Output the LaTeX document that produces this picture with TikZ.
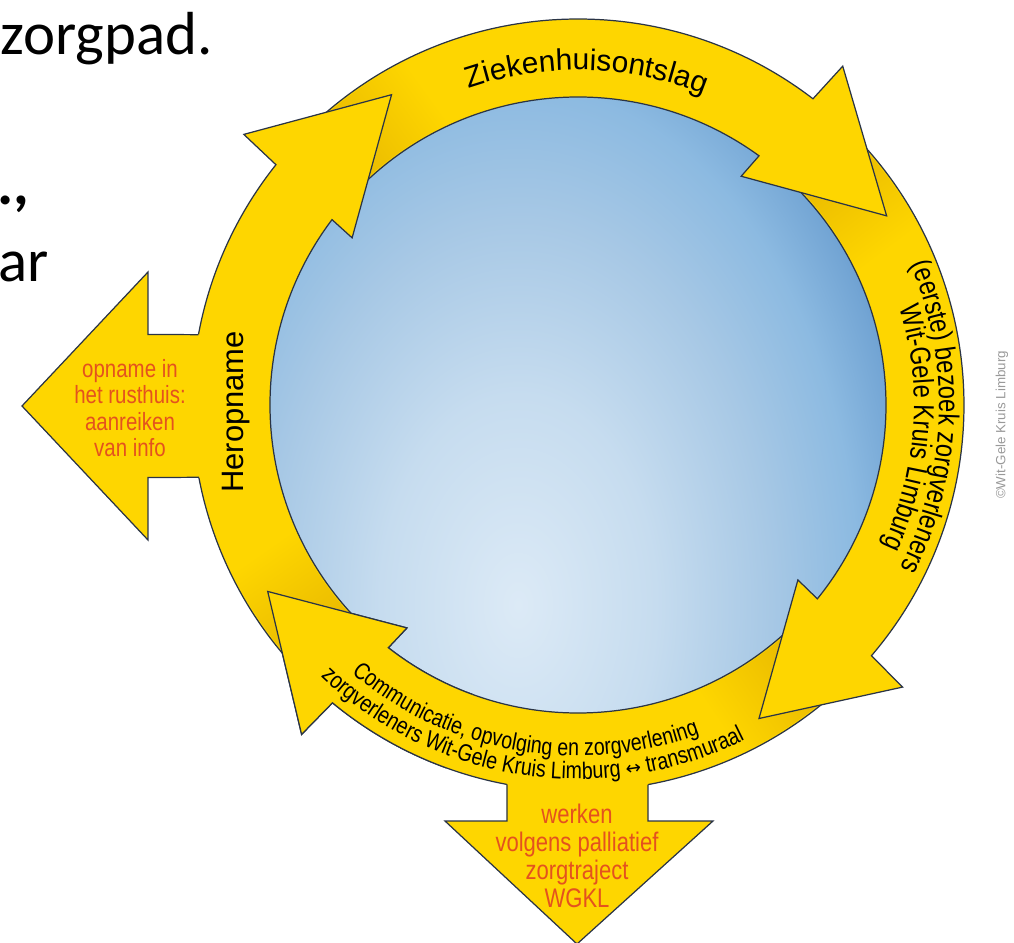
\documentclass[tikz,border=0pt]{standalone}
\usepackage{fontspec}
\setmainfont{Liberation Sans}
\newfontfamily\narrowsans[FakeStretch=0.82]{Liberation Sans}
\newfontfamily\slidefont{Carlito}
\newfontfamily\symbolfont{DejaVu Sans}
\usetikzlibrary{decorations.text}

\definecolor{ringyellow}{RGB}{254,214,0}
\definecolor{ringshade}{RGB}{232,184,0}
\definecolor{ringline}{RGB}{42,52,70}
\definecolor{infotext}{RGB}{228,82,30}
\definecolor{globeA}{RGB}{220,234,246}
\definecolor{globeB}{RGB}{198,220,239}
\definecolor{globeC}{RGB}{167,200,229}
\definecolor{globeD}{RGB}{140,186,225}
\definecolor{globeE}{RGB}{115,165,212}
\definecolor{globeF}{RGB}{80,130,190}

\pgfdeclareradialshading{globe}{\pgfpoint{0bp}{0bp}}{color(0bp)=(globeA); color(7.5bp)=(globeB); color(13.75bp)=(globeC); color(18.5bp)=(globeD); color(21.5bp)=(globeE); color(25bp)=(globeF); color(50bp)=(globeF)}
\pgfdeclarehorizontalshading{tailfade}{100bp}{color(0bp)=(ringshade); color(30bp)=(ringshade); color(62bp)=(ringyellow); color(100bp)=(ringyellow)}

% curved arrow on the ring: tail angle, base of head, tip angle
\newcommand\ringarrow[3]{(#1:308) arc[start angle=#1, end angle=#2+1, radius=308] -- (#2+1.5:281) -- (#3:362) -- (#2-1:430) -- (#2-0.5:386) arc[start angle=#2-0.5, end angle=#1, radius=386] -- cycle}
% darker part of a tail that runs under the previous head
\newcommand\tailshade[1]{%
  \shade[shading=tailfade, shading angle=#1-101]
    (#1:309.5) arc[start angle=#1, end angle=#1-30, radius=309.5] -- (#1-30:384.5) arc[start angle=#1-30, end angle=#1, radius=384.5] -- cycle;}

\newcommand\topfont{\fontsize{17pt}{17pt}\selectfont}
\newcommand\sidefont{\narrowsans\fontsize{16.4pt}{16.4pt}\selectfont}
\newcommand\basefont{\narrowsans\fontsize{13.6pt}{13.6pt}\selectfont}
\newcommand\arrowfont{\symbolfont\fontsize{10.5pt}{10.5pt}\selectfont}

\begin{document}
\begin{tikzpicture}[x=0.02cm, y=0.02cm,
    band/.style={fill=ringyellow, draw=ringline, line width=0.7pt, line join=miter},
    outline/.style={draw=ringline, line width=0.7pt, line join=miter},
    info/.style={align=center, text=infotext, inner sep=0pt},
    slide/.style={anchor=base east, inner sep=0pt, font=\slidefont\fontsize{34.6pt}{34.6pt}\selectfont}]
  \useasboundingbox (-578,-538) rectangle (436,405);

  \begin{scope}
    \clip (0,0) circle (310);
    \shade[shading=globe] (-60,-200) ellipse (460 and 700);
  \end{scope}

  \draw[band] \ringarrow{315}{231}{211};
  \tailshade{315}
  \draw[band] \ringarrow{48}{-40}{-60};
  \tailshade{48}
  \draw[band] \ringarrow{137}{53}{31.5};
  \tailshade{137}
  \draw[band] \ringarrow{226}{142}{121};
  \tailshade{226}
  \begin{scope}
    \clip (0,0) -- (200:600) arc[start angle=200, end angle=250, radius=600] -- cycle;
    \draw[band] \ringarrow{315}{231}{211};
  \end{scope}

  % arrows leaving the ring
  \fill[ringyellow] (-365,70.5) -- (-430,70.5) -- (-430,133) -- (-556,-1) -- (-430,-135) -- (-430,-72.5) -- (-365,-72.5) -- cycle;
  \draw[outline] (169.5:386) -- (-430,70.5) -- (-430,133) -- (-556,-1) -- (-430,-135) -- (-430,-72.5) -- (190.8:386);
  \fill[ringyellow] (-71,-365) -- (-71,-416) -- (-133,-416) -- (-1,-539) -- (135,-416) -- (70,-416) -- (70,-365) -- cycle;
  \draw[outline] (259.4:386) -- (-71,-416) -- (-133,-416) -- (-1,-539) -- (135,-416) -- (70,-416) -- (280.45:386);

  % texts on the ring
  \path[decorate, decoration={text along path, text align=center,
      text={|\topfont|Ziekenhuisontslag}}]
    (118.5:335) arc[start angle=118.5, end angle=58.5, radius=335];
  \path[decorate, decoration={text along path, text align=center,
      text={|\sidefont|(eerste) bezoek zorgverleners}}]
    (33:361) arc[start angle=33, end angle=-37, radius=361];
  \path[decorate, decoration={text along path, text align=center,
      text={|\sidefont|Wit-Gele Kruis Limburg}}]
    (31:336) arc[start angle=31, end angle=-39, radius=336];
  \path[decorate, decoration={text along path, text align=center,
      text={|\basefont|Communicatie, opvolging en zorgverlening}}]
    (220:351) arc[start angle=220, end angle=300, radius=351];
  \path[decorate, decoration={text along path, text align=center,
      text={|\basefont|zorgverleners Wit-Gele Kruis Limburg |\arrowfont|↔|\basefont| transmuraal}}]
    (218:374) arc[start angle=218, end angle=305, radius=374];
  \node[rotate=90, anchor=base, inner sep=0pt, font=\fontsize{17.6pt}{17.6pt}\selectfont] (heropname) at (-334,-7) {Heropname};

  \node[info, font=\narrowsans\fontsize{14.2pt}{15pt}\selectfont] (rusthuis) at (-448,-3) {opname in\\het rusthuis:\\aanreiken\\van info};
  \node[info, font=\narrowsans\fontsize{15.3pt}{15.9pt}\selectfont] (zorgtraject) at (-1,-451) {werken\\volgens palliatief\\zorgtraject\\WGKL};

  \node[rotate=90, text=black!40, font=\fontsize{7.6pt}{7.6pt}\selectfont] (credit) at (424,-20) {©Wit-Gele Kruis Limburg};

  % slide text cut off at the left
  \node[slide] (slidetop) at (-365,350) {zorgpad.};
  \node[slide, font=\slidefont\bfseries\fontsize{34.6pt}{34.6pt}\selectfont] (slidemid) at (-548,200) {.,};
  \node[slide] (slidelow) at (-529,123) {ar};
\end{tikzpicture}
\end{document}
